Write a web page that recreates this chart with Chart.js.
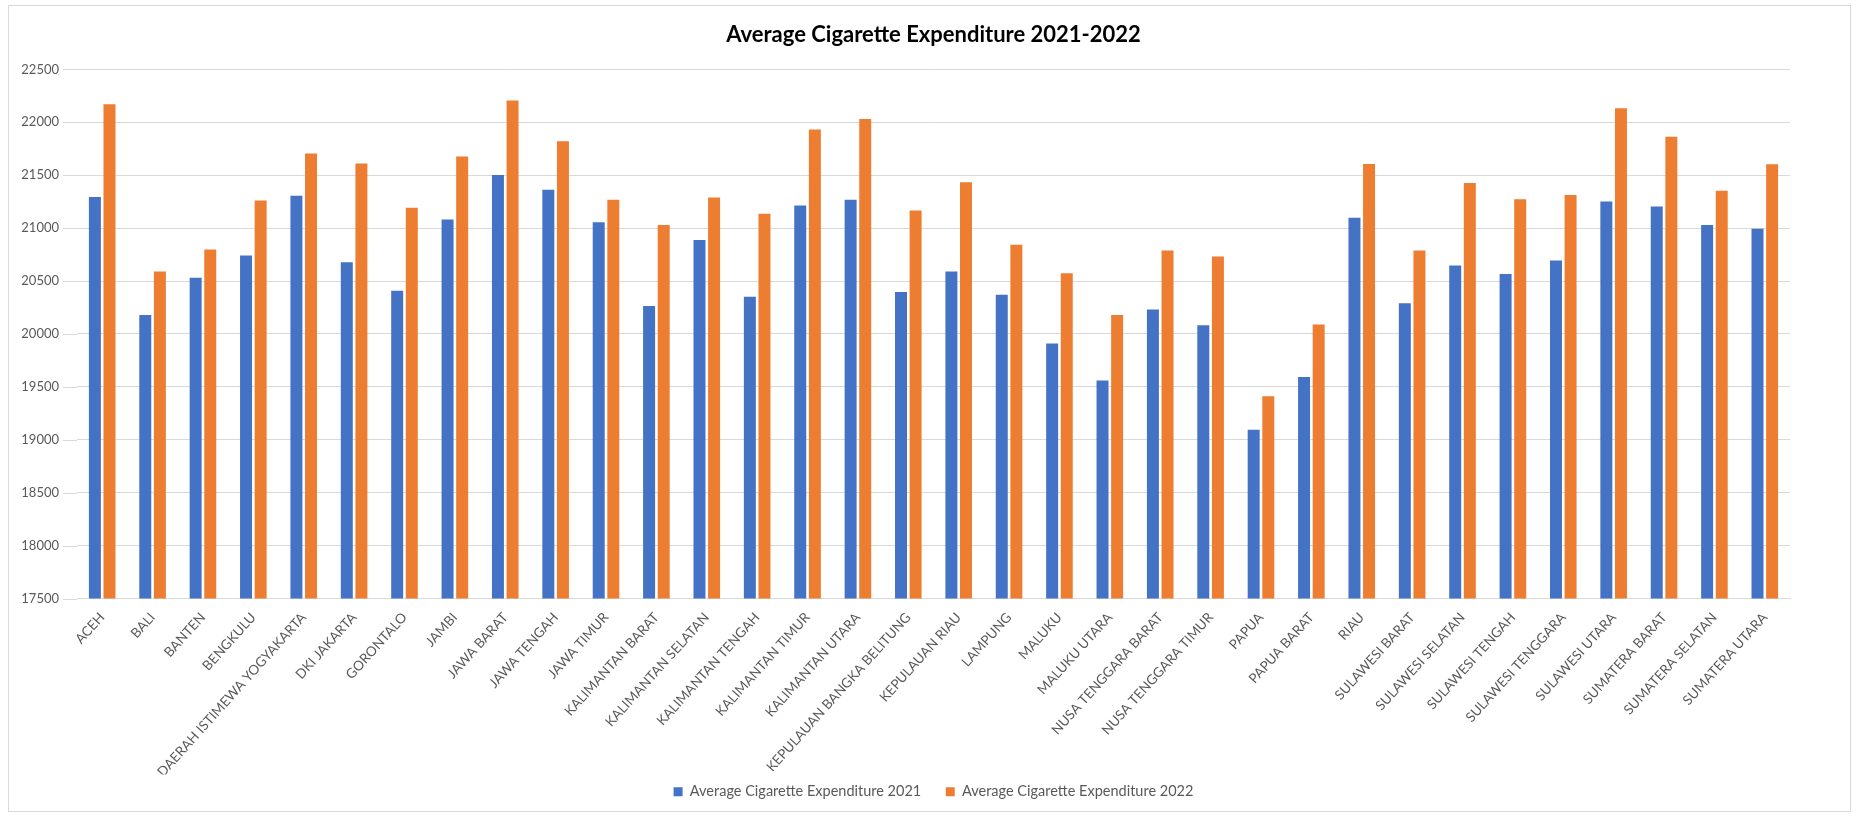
<!DOCTYPE html>
<html>
<head>
<meta charset="utf-8">
<title>Average Cigarette Expenditure 2021-2022</title>
<script src="https://cdn.jsdelivr.net/npm/chart.js@4.4.1/dist/chart.umd.min.js"></script>
<style>
    html, body { margin: 0; padding: 0; background: #ffffff; }
    #wrap { position: relative; width: 1857px; height: 816px; }
    canvas { display: block; }
</style>
</head>
<body>
<div id="wrap"><canvas id="cigChart" width="1857" height="816"></canvas></div>
<script>
    const provinces = [
        'ACEH', 'BALI', 'BANTEN', 'BENGKULU', 'DAERAH ISTIMEWA YOGYAKARTA', 'DKI JAKARTA',
        'GORONTALO', 'JAMBI', 'JAWA BARAT', 'JAWA TENGAH', 'JAWA TIMUR', 'KALIMANTAN BARAT',
        'KALIMANTAN SELATAN', 'KALIMANTAN TENGAH', 'KALIMANTAN TIMUR', 'KALIMANTAN UTARA',
        'KEPULAUAN BANGKA BELITUNG', 'KEPULAUAN RIAU', 'LAMPUNG', 'MALUKU', 'MALUKU UTARA',
        'NUSA TENGGARA BARAT', 'NUSA TENGGARA TIMUR', 'PAPUA', 'PAPUA BARAT', 'RIAU',
        'SULAWESI BARAT', 'SULAWESI SELATAN', 'SULAWESI TENGAH', 'SULAWESI TENGGARA',
        'SULAWESI UTARA', 'SUMATERA BARAT', 'SUMATERA SELATAN', 'SUMATERA UTARA'
    ];

    const expenditure2021 = [
        21293, 20178, 20532, 20741, 21306, 20678, 20409, 21081, 21502, 21363, 21055, 20263,
        20888, 20352, 21214, 21268, 20396, 20589, 20371, 19909, 19560, 20232, 20083, 19095,
        19593, 21097, 20289, 20647, 20567, 20694, 21252, 21204, 21030, 20995
    ];

    const expenditure2022 = [
        22171, 20589, 20798, 21261, 21705, 21610, 21192, 21677, 22205, 21822, 21268, 21030,
        21290, 21135, 21933, 22031, 21166, 21433, 20843, 20574, 20178, 20789, 20732, 19412,
        20090, 21607, 20789, 21427, 21274, 21312, 22133, 21864, 21353, 21603
    ];

    const yMin = 17500;
    const yMax = 22500;
    const yStep = 500;

    const labelColor = '#595959';
    const gridColor = '#d9d9d9';
    const fontFamily = 'Lato, "Open Sans", sans-serif';

    // marco gris alrededor del gráfico y líneas de cuadrícula que llegan hasta las etiquetas
    const framePlugin = {
        id: 'frame',
        beforeDraw(c) {
            const ctx = c.ctx;
            ctx.save();
            ctx.fillStyle = '#ffffff';
            ctx.fillRect(0, 0, c.width, c.height);
            ctx.strokeStyle = gridColor;
            ctx.lineWidth = 1;
            ctx.strokeRect(8.5, 5.5, 1842, 806);

            const y = c.scales.y;
            ctx.beginPath();
            y.ticks.forEach(t => {
                const py = Math.round(y.getPixelForValue(t.value)) + 0.5;
                ctx.moveTo(63, py);
                ctx.lineTo(c.chartArea.left, py);
            });
            ctx.stroke();
            ctx.restore();
        }
    };

    const ctx = document.getElementById('cigChart').getContext('2d');
    const chart = new Chart(ctx, {
        type: 'bar',
        data: {
            labels: provinces,
            datasets: [{
                label: 'Average Cigarette Expenditure 2021',
                data: expenditure2021,
                backgroundColor: '#4472C4',
                categoryPercentage: 0.58,
                barPercentage: 0.82
            }, {
                label: 'Average Cigarette Expenditure 2022',
                data: expenditure2022,
                backgroundColor: '#ED7D31',
                categoryPercentage: 0.58,
                barPercentage: 0.82
            }]
        },
        options: {
            responsive: false,
            animation: false,
            layout: { padding: { left: 10, right: 67, top: 22, bottom: 7 } },
            scales: {
                x: {
                    grid: { display: false },
                    border: { color: gridColor },
                    ticks: {
                        autoSkip: false,
                        minRotation: 48,
                        maxRotation: 48,
                        color: labelColor,
                        font: { family: fontFamily, size: 13.5 }
                    },
                    afterFit(scale) { scale.height = 176; }
                },
                y: {
                    min: yMin,
                    max: yMax,
                    grid: { color: gridColor, drawTicks: false },
                    border: { display: false },
                    ticks: {
                        stepSize: yStep,
                        padding: 18,
                        color: labelColor,
                        font: { family: fontFamily, size: 13 },
                        callback: (v) => String(v)
                    },
                    afterFit(scale) { scale.width = 67; }
                }
            },
            plugins: {
                title: {
                    display: true,
                    fullSize: false,
                    text: 'Average Cigarette Expenditure 2021-2022',
                    color: '#000000',
                    font: { family: fontFamily, size: 22, weight: 'bold' },
                    padding: { top: 0, bottom: 21 }
                },
                legend: {
                    position: 'bottom',
                    fullSize: false,
                    labels: {
                        boxWidth: 9,
                        boxHeight: 9,
                        padding: 10,
                        color: labelColor,
                        font: { family: fontFamily, size: 14.5 },
                        // un poco más de aire entre las dos entradas, como en Excel
                        generateLabels(c) {
                            const items = Chart.defaults.plugins.legend.labels.generateLabels(c);
                            items[0].text += '\u2002\u2002';
                            return items;
                        }
                    }
                },
                tooltip: { enabled: false }
            }
        },
        plugins: [framePlugin]
    });
</script>
</body>
</html>
